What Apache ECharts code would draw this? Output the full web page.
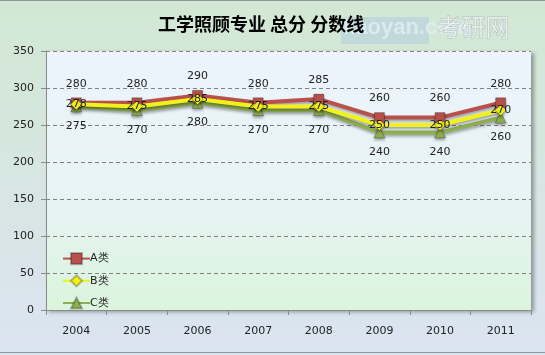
<!DOCTYPE html>
<html><head><meta charset="utf-8">
<script src="https://cdn.jsdelivr.net/npm/echarts@6/dist/echarts.min.js"></script>
<style>html,body{margin:0;padding:0;}#c{width:545px;height:355px;}</style>
</head><body><div id="c"></div>
<script>
const title = '工学照顾专业 总分 分数线';
const years = ['2004','2005','2006','2007','2008','2009','2010','2011'];
const seriesA = [280,280,290,280,285,260,260,280];
const seriesB = [278,275,285,275,275,250,250,270];
const seriesC = [275,270,280,270,270,240,240,260];
const names = ['A类','B类','C类'];
const yTicks = {min:0, max:350, interval:50};

const chart = echarts.init(document.getElementById('c'));
const font = '"DejaVu Sans", Verdana, sans-serif';
function mk(name, data, color, symbol, size, pos, z){
  return {
    name, type:'line', data, symbol, symbolSize:size, z,
    lineStyle:{color, width:4, shadowColor:'rgba(0,0,0,0.35)', shadowBlur:3, shadowOffsetX:1, shadowOffsetY:2},
    itemStyle:{color, borderColor:'rgba(0,0,0,0.25)', borderWidth:1, shadowColor:'rgba(0,0,0,0.35)', shadowBlur:3, shadowOffsetY:2},
    label:{show:true, position:pos, distance:pos==='inside'?0:8, color:'#222', fontSize:11, fontFamily:font},
    emphasis:{disabled:true}
  };
}
chart.setOption({
  animation:false,
  backgroundColor:{type:'linear',x:0,y:0,x2:0,y2:1,colorStops:[{offset:0,color:'#d2e8d3'},{offset:1,color:'#dbe4f1'}]},
  title:{text:title, left:153, top:10, textStyle:{fontSize:18, fontWeight:'bold', color:'#000', fontFamily:'"Noto Sans CJK SC", sans-serif'}},
  graphic:[
    {type:'rect', z:0, shape:{x:341,y:17,width:88,height:27}, style:{fill:'rgba(170,200,220,0.45)'}},
    {type:'text', left:343, top:17, z:0, style:{text:'kaoyan.com', fontSize:22, fontWeight:'bold', fill:'rgba(225,238,245,0.8)', fontFamily:'"Liberation Sans Narrow", Arial, sans-serif'}},
    {type:'text', left:437, top:14, z:0, style:{text:'考研网', fontSize:24, fill:'rgba(255,255,255,0.6)', stroke:'rgba(150,165,175,0.6)', lineWidth:1, fontFamily:'"Noto Sans CJK SC", sans-serif'}},
    {type:'rect', shape:{x:0,y:352,width:545,height:1}, style:{fill:'#8a9a9a'}},
    {type:'rect', shape:{x:0,y:0,width:545,height:1}, style:{fill:'#8a9a9a'}}
  ],
  grid:{left:46, right:14, top:51, bottom:45, show:true, borderWidth:0,
    backgroundColor:{type:'linear',x:0,y:0,x2:0,y2:1,colorStops:[{offset:0,color:'#edf4fc'},{offset:0.6,color:'#e6f3f3'},{offset:1,color:'#dbf5dc'}]},
    shadowColor:'rgba(0,0,0,0.35)', shadowBlur:4, shadowOffsetX:3, shadowOffsetY:2},
  legend:{orient:'vertical', left:57, top:247, itemGap:9, itemWidth:27, itemHeight:14, data:names,
    textStyle:{fontSize:11, color:'#222', fontFamily:font, padding:[0,0,0,-5]}},
  xAxis:{type:'category', data:years, boundaryGap:true,
    axisLine:{lineStyle:{color:'#8a8a8a'}}, axisTick:{show:true, length:5, lineStyle:{color:'#8a8a8a'}},
    axisLabel:{color:'#222', fontSize:11, margin:16, fontFamily:font}},
  yAxis:{type:'value', min:yTicks.min, max:yTicks.max, interval:yTicks.interval,
    axisLine:{show:true, lineStyle:{color:'#8a8a8a'}}, axisTick:{show:true, length:5, lineStyle:{color:'#8a8a8a'}},
    axisLabel:{color:'#222', fontSize:11, margin:12, fontFamily:font},
    splitLine:{lineStyle:{color:'#808080', type:[4,3]}}},
  series:[
    mk(names[0], seriesA, '#b8504c', 'rect', 10, 'top', 3),
    mk(names[1], seriesB, '#f2f21a', 'diamond', 11, 'inside', 4),
    mk(names[2], seriesC, '#8faf52', 'triangle', 11, 'bottom', 2)
  ]
});
</script></body></html>
